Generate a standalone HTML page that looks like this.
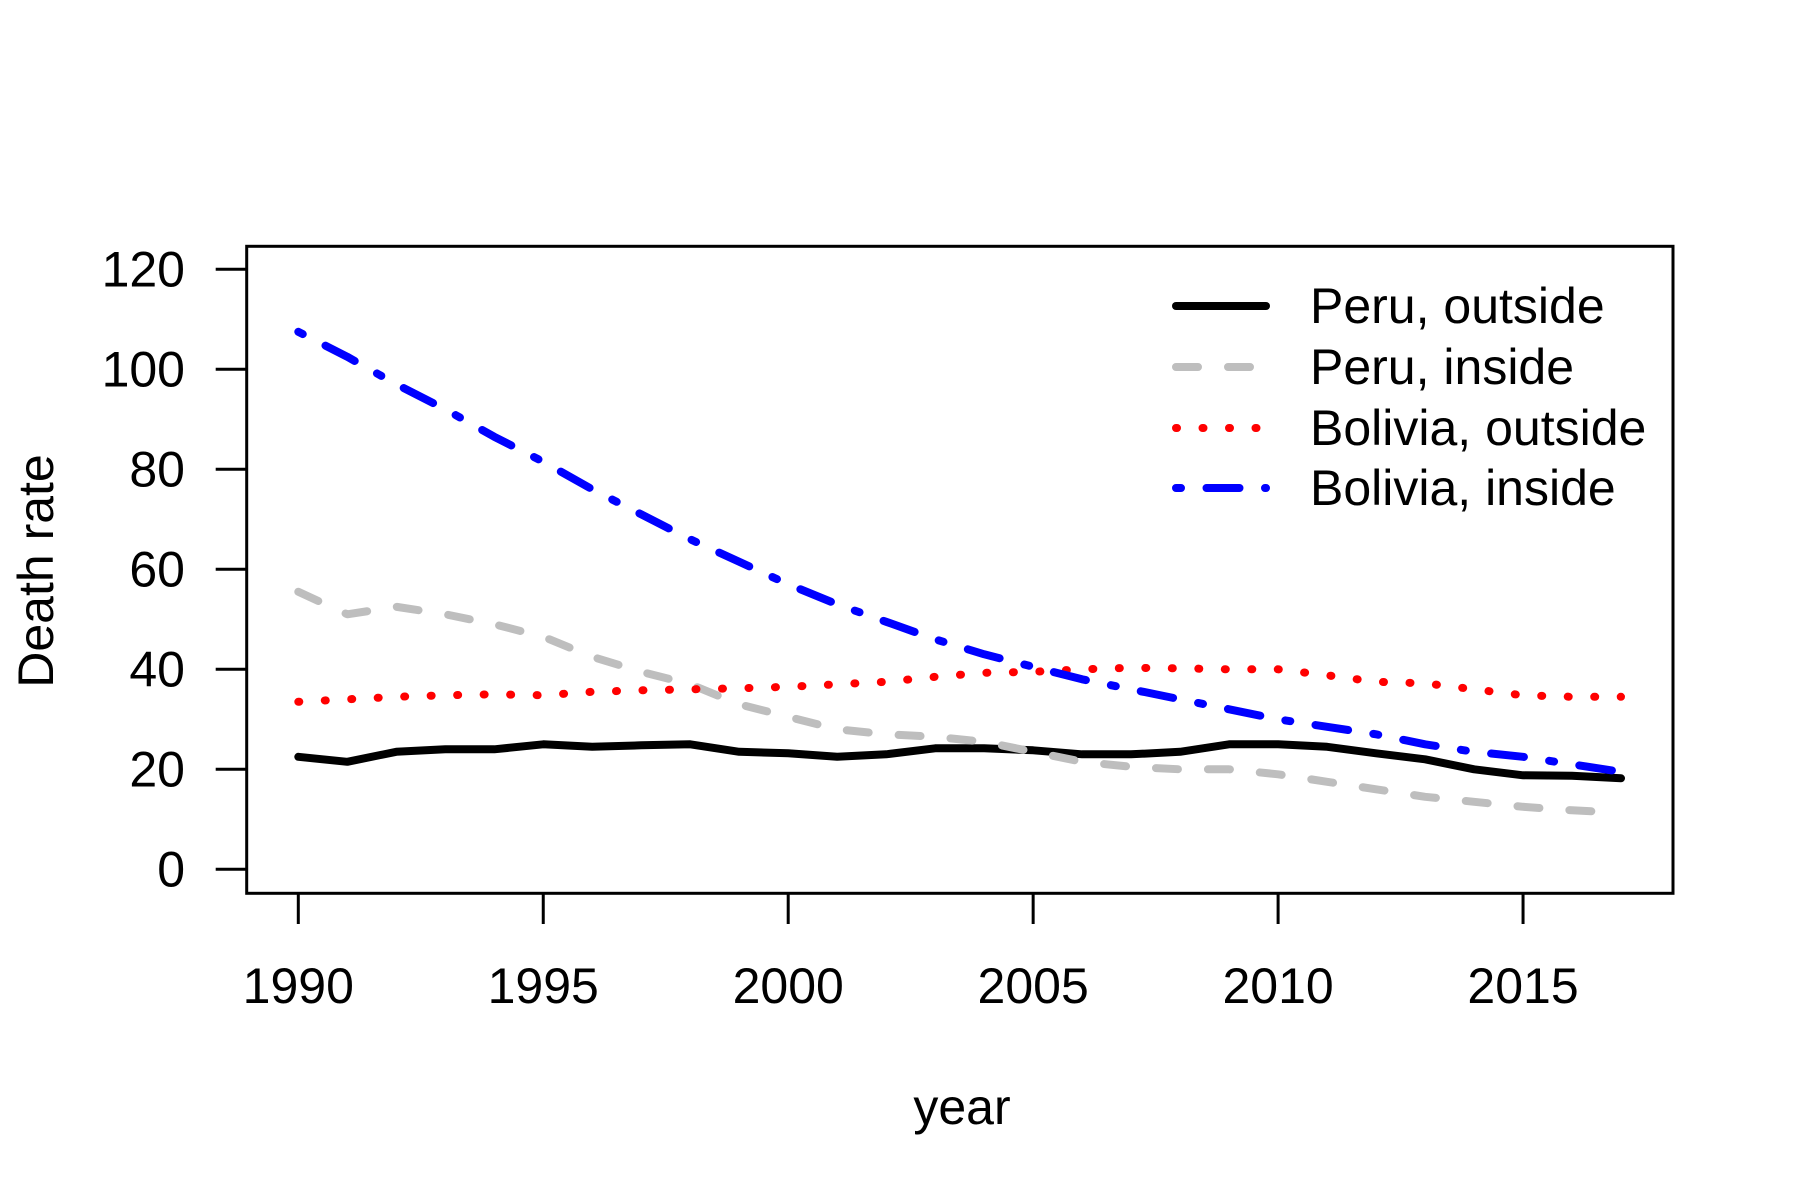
<!DOCTYPE html>
<html><head><meta charset="utf-8"><style>
html,body{margin:0;padding:0;background:#fff}
svg{display:block}
text{font-family:"Liberation Sans",Arial,sans-serif;fill:#000}
</style></head><body>
<svg id="chart" width="1800" height="1200" viewBox="0 0 1800 1200" xmlns="http://www.w3.org/2000/svg">
<rect x="0" y="0" width="1800" height="1200" fill="#fff"/>
<g id="axes"></g>
<g id="series"></g>
<g id="legend"></g>
</svg>
<script>
const years = [1990,1991,1992,1993,1994,1995,1996,1997,1998,1999,2000,2001,2002,2003,2004,2005,2006,2007,2008,2009,2010,2011,2012,2013,2014,2015,2016,2017];
const peruOutside = [22.5,21.5,23.5,24,24,25,24.5,24.8,25,23.5,23.2,22.5,23,24.2,24.2,23.8,23,23,23.5,25,25,24.5,23.2,22,20,18.8,18.7,18.2];
const peruInside = [55.5,51,52.5,51,49,46.5,42.5,39.5,37,33,30.5,28,27,26.5,25.5,23.5,21.5,20.5,20,20,19,17.5,16,14.5,13.5,12.5,11.8,11.3];
const boliviaOutside = [33.5,34,34.5,34.8,35,34.8,35.5,35.8,36,36.2,36.5,37,37.5,38.5,39.3,39.5,40,40.3,40.2,40,40,38.8,37.5,37.2,36,34.8,34.5,34.5];
const boliviaInside = [107.5,102.5,97,92,86.5,81.5,76,71,66,61.5,57,53,49.5,46,43,40.5,38,36,34,32,30,28.5,27,25,23.5,22.5,21,19.5];
const xTicks = [1990,1995,2000,2005,2010,2015];
const yTicks = [0,20,40,60,80,100,120];
const legendLabels = ["Peru, outside","Peru, inside","Bolivia, outside","Bolivia, inside"];

const NS = "http://www.w3.org/2000/svg";
function X(v){ return 298.3 + (v - 1990) * 48.99; }
function Y(v){ return 869.3 - v * 5.0; }
function mk(tag, attrs, parent){
  const e = document.createElementNS(NS, tag);
  for (const k in attrs) e.setAttribute(k, attrs[k]);
  parent.appendChild(e);
  return e;
}
const axes = document.getElementById('axes');
const series = document.getElementById('series');
const legend = document.getElementById('legend');

const frame = mk('rect', {x:246.7, y:246.3, width:1426.3, height:647, fill:'none', stroke:'#000', 'stroke-width':3}, axes);



yTicks.forEach(t => {
  const l = mk('line', {x1:215.7, x2:246.7, y1:Y(t), y2:Y(t), stroke:'#000', 'stroke-width':3}, axes);
  
  
  const tx = mk('text', {x:185, y:Y(t)+17, 'text-anchor':'end', 'font-size':50}, axes);
  tx.textContent = t;
  
  
});
xTicks.forEach(t => {
  const l = mk('line', {x1:X(t), x2:X(t), y1:893.3, y2:924, stroke:'#000', 'stroke-width':3}, axes);
  
  
  const tx = mk('text', {x:X(t), y:1003, 'text-anchor':'middle', 'font-size':50}, axes);
  tx.textContent = t;
  
  
});
const xt = mk('text', {x:962, y:1124, 'text-anchor':'middle', 'font-size':50}, axes);
xt.textContent = 'year';


const yt = mk('text', {x:0, y:0, 'text-anchor':'middle', 'font-size':50, transform:'translate(53,571) rotate(-90)'}, axes);
yt.textContent = 'Death rate';



const styles = [
  {color:'#000000', dash:'none', name:'peru-outside-line'},
  {color:'#bebebe', dash:'22 30', name:'peru-inside-line'},
  {color:'#ff0000', dash:'1 25.5', name:'bolivia-outside-line'},
  {color:'#0000ff', dash:'5 25.5 33 25.5', name:'bolivia-inside-line'}
];
const allSeries = [peruOutside, peruInside, boliviaOutside, boliviaInside];
allSeries.forEach((vals, i) => {
  const d = vals.map((v, j) => (j ? 'L' : 'M') + X(years[j]).toFixed(1) + ',' + Y(v).toFixed(1)).join(' ');
  const p = mk('path', {d:d, fill:'none', stroke:styles[i].color, 'stroke-width':8, 'stroke-dasharray':styles[i].dash, 'stroke-linejoin':'round', 'stroke-linecap':'round'}, series);
  
  
});

const legendRows = [306, 367, 428, 488];
legendLabels.forEach((lab, i) => {
  const g = mk('g', {}, legend);
  
  
  mk('line', {x1:1176, x2:1266, y1:legendRows[i], y2:legendRows[i], stroke:styles[i].color, 'stroke-width':8, 'stroke-dasharray':styles[i].dash, 'stroke-linecap':'round'}, g);
  const t = mk('text', {x:1310, y:legendRows[i]+17, 'font-size':50}, g);
  t.textContent = lab;
});
</script>
</body></html>
